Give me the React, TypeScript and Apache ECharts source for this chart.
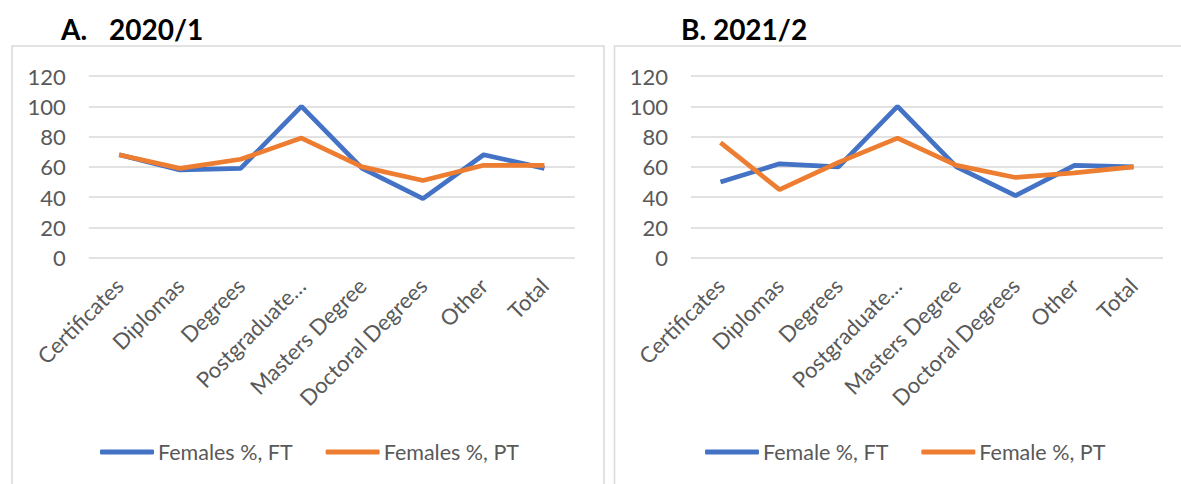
import React, { useEffect, useRef } from "react";
import * as echarts from "echarts";

const categories = [
  "Certificates",
  "Diplomas",
  "Degrees",
  "Postgraduate…",
  "Masters Degree",
  "Doctoral Degrees",
  "Other",
  "Total",
];
const yTicks = { min: 0, max: 120, interval: 20 };

const seriesNamesA = ["Females %, FT", "Females %, PT"];
const ftA = [68, 58, 59, 100, 59, 39, 68, 59];
const ptA = [68, 59, 65, 79, 60, 51, 61, 61];

const seriesNamesB = ["Female %, FT", "Female %, PT"];
const ftB = [50, 62, 60, 100, 60, 41, 61, 60];
const ptB = [76, 45, 63, 79, 61, 53, 56, 60];

const BLUE = "#4472C4";
const ORANGE = "#ED7D31";
const GRID = "#D9D9D9";
const TXT = "#595959";
const FONT = "Lato, 'Noto Sans', sans-serif";

export default function App() {
  const ref = useRef<HTMLDivElement>(null);
  useEffect(() => {
    if (!ref.current) return;
    const chart = echarts.init(ref.current, undefined, { renderer: "svg" });
    const xAxisBase = (gridIndex: number) => ({
      type: "category",
      gridIndex,
      data: categories,
      boundaryGap: true,
      axisLine: { show: false },
      axisTick: { show: false },
      axisLabel: {
        rotate: 45,
        interval: 0,
        color: TXT,
        fontSize: 22,
        fontFamily: FONT,
        margin: 24,
      },
    });
    const yAxisBase = (gridIndex: number) => ({
      type: "value",
      gridIndex,
      min: yTicks.min,
      max: yTicks.max,
      interval: yTicks.interval,
      axisLine: { show: false },
      axisTick: { show: false },
      splitLine: { lineStyle: { color: GRID, width: 1.5 } },
      axisLabel: { color: TXT, fontSize: 22, fontFamily: FONT, margin: 23 },
    });
    const lineSeries = (name: string, data: number[], color: string, idx: number) => ({
      type: "line",
      name,
      data,
      xAxisIndex: idx,
      yAxisIndex: idx,
      symbol: "none",
      lineStyle: { color, width: 4.7 },
      itemStyle: { color },
    });
    const legendBase = (names: string[], left: number) => ({
      data: names,
      left,
      top: 441,
      padding: 0,
      icon: "roundRect",
      itemWidth: 54,
      itemHeight: 5,
      itemGap: 33,
      textStyle: { color: TXT, fontSize: 21.5, fontFamily: FONT, padding: [0, 0, 0, -1] },
    });
    chart.setOption({
      animation: false,
      backgroundColor: "#ffffff",
      grid: [
        { left: 88.8, top: 76, width: 486, height: 181.7 },
        { left: 691, top: 76, width: 472, height: 181.7 },
      ],
      xAxis: [xAxisBase(0), xAxisBase(1)],
      yAxis: [yAxisBase(0), yAxisBase(1)],
      legend: [legendBase(seriesNamesA, 100), legendBase(seriesNamesB, 705)],
      series: [
        lineSeries(seriesNamesA[0], ftA, BLUE, 0),
        lineSeries(seriesNamesA[1], ptA, ORANGE, 0),
        lineSeries(seriesNamesB[0], ftB, BLUE, 1),
        lineSeries(seriesNamesB[1], ptB, ORANGE, 1),
      ],
      graphic: [
        {
          type: "rect",
          shape: { x: 12, y: 46, width: 592, height: 460 },
          style: { fill: "none", stroke: GRID, lineWidth: 1.5 },
          z: -1,
        },
        {
          type: "rect",
          shape: { x: 614.5, y: 46, width: 600, height: 460 },
          style: { fill: "none", stroke: GRID, lineWidth: 1.5 },
          z: -1,
        },
        {
          type: "text",
          x: 61,
          y: 29,
          style: {
            text: "A.",
            fill: "#000",
            font: `bold 28px ${FONT}`,
            verticalAlign: "middle",
          },
        },
        {
          type: "text",
          x: 109,
          y: 29,
          style: {
            text: "2020/1",
            fill: "#000",
            font: `bold 28px ${FONT}`,
            verticalAlign: "middle",
          },
        },
        {
          type: "text",
          x: 681,
          y: 29,
          style: {
            text: "B. 2021/2",
            fill: "#000",
            font: `bold 28px ${FONT}`,
            verticalAlign: "middle",
          },
        },
      ],
    });
    return () => chart.dispose();
  }, []);
  return (
    <div
      ref={ref}
      style={{ position: "absolute", left: 0, top: 0, width: 1181, height: 484 }}
    />
  );
}
